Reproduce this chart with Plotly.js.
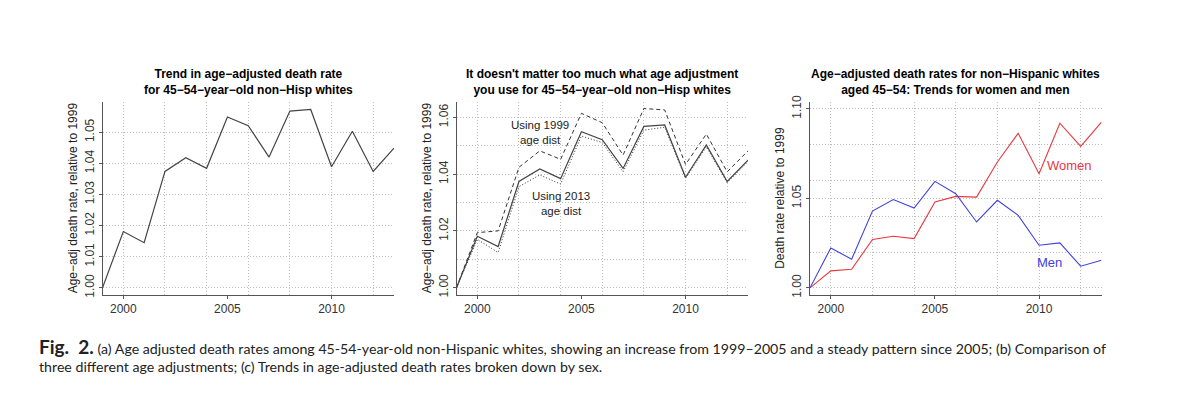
<!DOCTYPE html>
<html>
<head>
<meta charset="utf-8">
<script src="https://cdn.plot.ly/plotly-3.0.1.min.js"></script>
<style>
  html, body { margin: 0; padding: 0; background: #fff; }
  #chart { width: 1200px; height: 415px; }
</style>
</head>
<body>
<div id="chart"></div>
<script>
// ---- data ----
const years = [1999, 2000, 2001, 2002, 2003, 2004, 2005, 2006, 2007, 2008, 2009, 2010, 2011, 2012, 2013];

// (a) age-adjusted trend (also solid line in panel b)
const trendAll = [1.000, 1.0181, 1.0145, 1.0374, 1.0418, 1.0384, 1.0549, 1.0521, 1.0420, 1.0568, 1.0573, 1.0389, 1.0503, 1.0374, 1.0449];
// (b) alternative age adjustments
const using1999 = [1.000, 1.0194, 1.0200, 1.0424, 1.0482, 1.0452, 1.0614, 1.0581, 1.0467, 1.0631, 1.0626, 1.0434, 1.0541, 1.0408, 1.0482];
const using2013 = [1.000, 1.0170, 1.0124, 1.0356, 1.0397, 1.0365, 1.0534, 1.0511, 1.0408, 1.0555, 1.0565, 1.0385, 1.0496, 1.0370, 1.0444];
// (c) by sex
const women = [1.000, 1.0095, 1.0104, 1.0270, 1.0288, 1.0275, 1.0480, 1.0511, 1.0507, 1.0703, 1.0864, 1.0637, 1.0920, 1.0790, 1.0926];
const men   = [1.000, 1.0223, 1.0160, 1.0429, 1.0493, 1.0446, 1.0595, 1.0526, 1.0368, 1.0489, 1.0405, 1.0238, 1.0251, 1.0121, 1.0154];

// tick labels and grid positions
const xTickVals = [2000, 2005, 2010];
const xGridVals = [2000, 2002, 2004, 2006, 2008, 2010, 2012];
const y1Ticks = [1.00, 1.01, 1.02, 1.03, 1.04, 1.05];
const y2Ticks = [1.00, 1.02, 1.04, 1.06];
const y2Grid  = [1.01, 1.03, 1.05];
const y3Ticks = [1.00, 1.05, 1.10];
const y3Grid  = [1.02, 1.04, 1.06, 1.08];

const titles = [
  'Trend in age\u2212adjusted death rate<br>for 45\u221254\u2212year\u2212old non\u2212Hisp whites',
  'It doesn\'t matter too much what age adjustment<br>you use for 45\u221254\u2212year\u2212old non\u2212Hisp whites',
  'Age\u2212adjusted death rates for non\u2212Hispanic whites<br>aged 45\u221254: Trends for women and men'
];
const yTitles = [
  'Age\u2212adj death rate, relative to 1999',
  'Age\u2212adj death rate, relative to 1999',
  'Death rate relative to 1999'
];

// ---- styling ----
const W = 1200, H = 415;
const FONT = 'Liberation Sans, Arial, Helvetica, sans-serif';
const axisColor = '#555';
const gridColor = '#bdbdbd';
const gridDash = '1px,2px';
const px = v => v / W;
const py = v => 1 - v / H;

const plotTop = 101.7, plotBottom = 295;
const panelsX = [[102.5, 394], [456.5, 748], [810, 1101.5]];
const yDomain = [py(plotBottom), py(plotTop)];

function gridMinor(vals) {
  // minor ticks 'inside' (zero length) vs major 'outside' so minor grid may coincide with major ticks
  return {tickmode: 'array', tickvals: vals, showgrid: true, gridcolor: gridColor, griddash: gridDash, gridwidth: 1,
          ticks: 'inside', ticklen: 0, tickcolor: 'rgba(0,0,0,0)'};
}
function xAxis(i, anchor) {
  return {
    domain: [px(panelsX[i][0]), px(panelsX[i][1])],
    anchor: anchor,
    range: [1999, 2013],
    tickmode: 'array', tickvals: xTickVals, ticktext: xTickVals.map(String),
    showgrid: false, zeroline: false,
    showline: true, linecolor: axisColor, linewidth: 1,
    ticks: 'outside', ticklen: 3, tickcolor: axisColor,
    tickfont: {family: FONT, size: 12, color: '#333'},
    minor: gridMinor(xGridVals),
    fixedrange: true
  };
}
function yAxis(anchor, range, ticks, grid) {
  const a = {
    domain: yDomain,
    anchor: anchor,
    range: range,
    tickmode: 'array', tickvals: ticks, ticktext: ticks.map(v => v.toFixed(2)),
    showgrid: true, gridcolor: gridColor, griddash: gridDash, gridwidth: 1,
    zeroline: false,
    showline: true, linecolor: axisColor, linewidth: 1,
    ticks: 'outside', ticklen: 3, tickcolor: axisColor,
    tickangle: -90,
    tickfont: {family: FONT, size: 12, color: '#333'},
    fixedrange: true
  };
  if (grid) a.minor = gridMinor(grid);
  return a;
}

const traces = [
  {x: years, y: trendAll, xaxis: 'x', yaxis: 'y', mode: 'lines', line: {color: '#444', width: 1.2}, name: 'All'},
  {x: years, y: using1999, xaxis: 'x2', yaxis: 'y2', mode: 'lines', line: {color: '#333', width: 1, dash: '4px,3px'}, name: 'Using 1999 age dist'},
  {x: years, y: using2013, xaxis: 'x2', yaxis: 'y2', mode: 'lines', line: {color: '#333', width: 1, dash: '1px,2px'}, name: 'Using 2013 age dist'},
  {x: years, y: trendAll, xaxis: 'x2', yaxis: 'y2', mode: 'lines', line: {color: '#444', width: 1.2}, name: 'All'},
  {x: years, y: women, xaxis: 'x3', yaxis: 'y3', mode: 'lines', line: {color: '#e8393f', width: 1.1}, name: 'Women'},
  {x: years, y: men, xaxis: 'x3', yaxis: 'y3', mode: 'lines', line: {color: '#4040e0', width: 1.1}, name: 'Men'}
];

const annotations = [];
// panel titles
titles.forEach((t, i) => {
  annotations.push({
    xref: 'paper', yref: 'paper',
    x: px((panelsX[i][0] + panelsX[i][1]) / 2), y: py(82),
    xanchor: 'center', yanchor: 'middle',
    text: '<b>' + t + '</b>', showarrow: false, align: 'center',
    font: {family: FONT, size: 12, color: '#000'}
  });
});
// y-axis titles
yTitles.forEach((t, i) => {
  annotations.push({
    xref: 'paper', yref: 'paper',
    x: px(panelsX[i][0] - 29.5), y: py((plotTop + plotBottom) / 2),
    xanchor: 'center', yanchor: 'middle', textangle: -90,
    text: t, showarrow: false,
    font: {family: FONT, size: 12, color: '#222'}
  });
});
// in-plot labels
annotations.push(
  {xref: 'x2', yref: 'y2', x: 2003.0, y: 1.0546, text: 'Using 1999<br>age dist', showarrow: false, align: 'center',
   font: {family: FONT, size: 11.5, color: '#222'}},
  {xref: 'x2', yref: 'y2', x: 2004.0, y: 1.0298, text: 'Using 2013<br>age dist', showarrow: false, align: 'center',
   font: {family: FONT, size: 11.5, color: '#222'}},
  {xref: 'x3', yref: 'y3', x: 2011.46, y: 1.0684, text: 'Women', showarrow: false,
   font: {family: FONT, size: 13, color: '#e8393f'}},
  {xref: 'x3', yref: 'y3', x: 2010.5, y: 1.0139, text: 'Men', showarrow: false,
   font: {family: FONT, size: 13, color: '#4040e0'}}
);
// figure caption
annotations.push({
  xref: 'paper', yref: 'paper', x: px(37), y: py(355), xanchor: 'left', yanchor: 'middle',
  align: 'left', showarrow: false,
  text: '<span style="font-size:19px"><b>Fig.  2.</b></span> (a) Age adjusted death rates among 45-54-year-old non-Hispanic whites, showing an increase from 1999\u20132005 and a steady pattern since 2005; (b) Comparison of<br>three different age adjustments; (c) Trends in age-adjusted death rates broken down by sex.',
  font: {family: 'Lato, DejaVu Sans, sans-serif', size: 14.2, color: '#222'}
});

const layout = {
  width: W, height: H,
  margin: {l: 0, r: 0, t: 0, b: 0},
  paper_bgcolor: '#fff', plot_bgcolor: '#fff',
  showlegend: false,
  xaxis: xAxis(0, 'y'),
  yaxis: yAxis('x', [0.9977, 1.0598], y1Ticks, null),
  xaxis2: xAxis(1, 'y2'),
  yaxis2: yAxis('x2', [0.99743, 1.0655], y2Ticks, y2Grid),
  xaxis3: xAxis(2, 'y3'),
  yaxis3: yAxis('x3', [0.996, 1.104], y3Ticks, y3Grid),
  annotations: annotations
};

Plotly.newPlot('chart', traces, layout, {displayModeBar: false, staticPlot: true});
</script>
</body>
</html>
